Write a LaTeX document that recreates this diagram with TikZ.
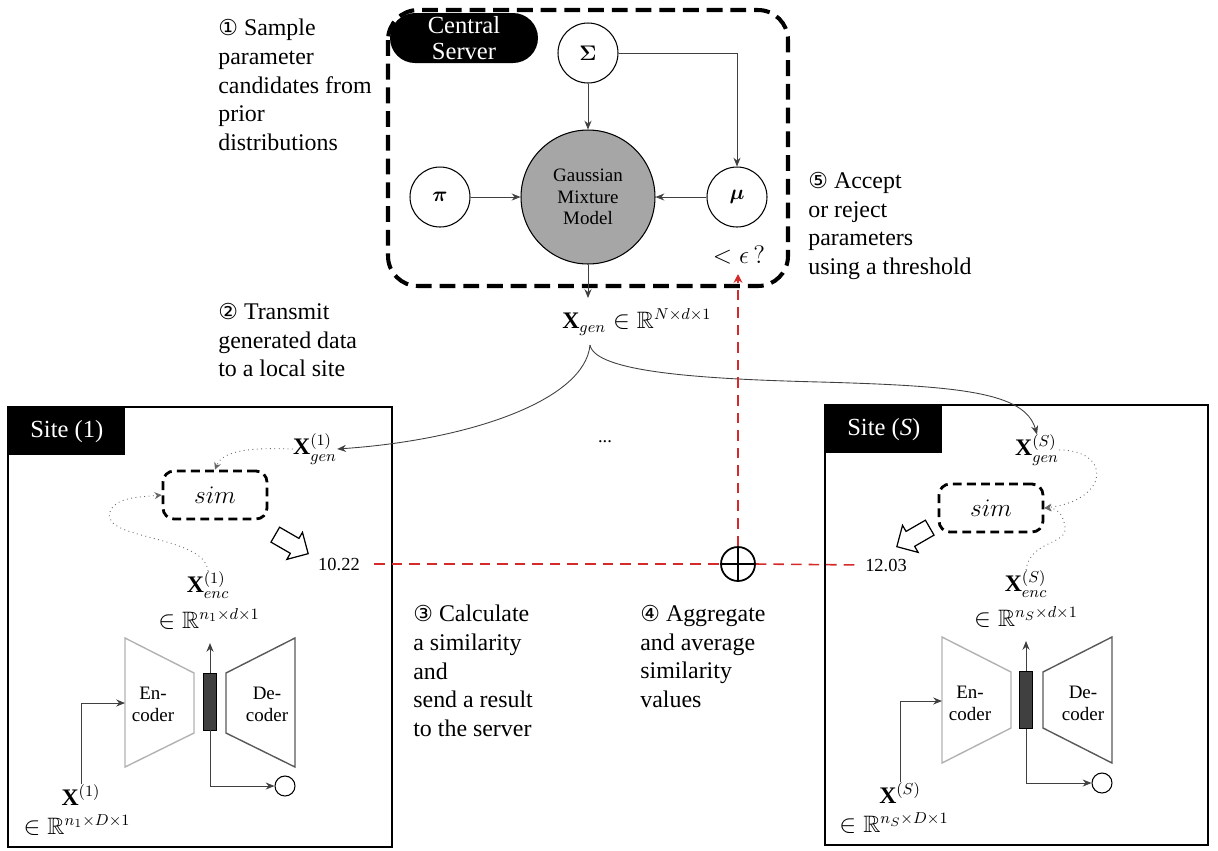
\documentclass[tikz,border=0pt]{standalone}
\usepackage{amsmath,amssymb,bm}
\usepackage{fontspec}
\setmainfont{Liberation Serif}
\newfontfamily\circledfont{DejaVu Sans}
\usetikzlibrary{arrows.meta,shapes.arrows,shapes.geometric}
\definecolor{gmmgray}{HTML}{A6A6A6}
\definecolor{redline}{HTML}{D42A2A}
\newcommand\cnum[1]{{\circledfont\fontsize{12.5}{14}\selectfont #1}}
\begin{document}
\begin{tikzpicture}[x=0.02cm,y=-0.02cm,
  arr/.style={draw=black!75, line width=0.5pt, -{Stealth[length=5pt,width=4pt]}},
  param/.style={circle, draw, line width=0.6pt, minimum size=1.2cm, inner sep=0, font=\fontsize{12}{14}\selectfont},
  note/.style={anchor=north west, align=left, inner sep=0, font=\fontsize{13.6}{16.3}\selectfont},
  lbl/.style={inner sep=0pt, font=\fontsize{13.5}{15}\selectfont},
  simbox/.style={draw, line width=1.6pt, rounded corners=0.22cm, minimum width=2.08cm, minimum height=0.96cm, dash pattern=on 5pt off 3pt, font=\fontsize{15}{17}\selectfont},
  dotc/.style={draw=black!60, dotted, line width=0.5pt, -{Stealth[length=4pt,width=4pt]}},
  reddash/.style={draw=redline, line width=0.9pt, dash pattern=on 6pt off 4pt},
  sitebox/.style={draw, line width=1.6pt},
  sitelbl/.style={fill=black, text=white, anchor=north west, minimum width=2.34cm, minimum height=0.96cm, inner sep=0, font=\fontsize{14}{16}\selectfont},
  enc/.style={draw=black!30, line width=0.8pt},
  dec/.style={draw=black!65, line width=0.8pt},
  bneck/.style={draw=black, fill=black!75, minimum width=0.26cm, minimum height=1.14cm, inner sep=0, line width=0.5pt},
  outc/.style={circle, draw, minimum size=0.4cm, inner sep=0, line width=0.6pt},
  blockarr/.style={single arrow, draw, fill=white, line width=0.7pt, minimum height=0.76cm, inner sep=0.16cm, single arrow head extend=0.14cm},
  codertext/.style={align=center, font=\fontsize{10.8}{12.5}\selectfont, inner sep=0},
  valtext/.style={inner sep=1pt, font=\fontsize{10.5}{12}\selectfont}
]
\useasboundingbox (0,0) rectangle (1218,850);

% ---------------- central server ----------------
\draw[line width=2.3pt, dash pattern=on 9pt off 4.5pt, rounded corners=0.6cm] (388,10) rectangle (788,286);
\node[fill=black, text=white, rounded corners=0.5cm, minimum width=2.96cm, minimum height=1cm, inner sep=0, align=center, font=\fontsize{14}{14.5}\selectfont] (server) at (464,38) {Central\\Server};

\node[param] (sigma) at (588,53) {$\boldsymbol{\Sigma}$};
\node[circle, draw, line width=0.6pt, fill=gmmgray, minimum size=2.68cm, inner sep=0, align=center, font=\fontsize{10.8}{12.3}\selectfont] (gmm) at (588,197) {Gaussian\\Mixture\\Model};
\node[param] (pi) at (440,197) {$\boldsymbol{\pi}$};
\node[param] (mu) at (737,197) {$\boldsymbol{\mu}$};

\draw[arr] (sigma) -- (gmm);
\draw[arr] (pi) -- (gmm);
\draw[arr] (mu) -- (gmm);
\draw[arr] (sigma.east) -| (mu.north);

\node[font=\fontsize{15}{17}\selectfont, inner sep=1pt] (eps) at (739,255) {$<\epsilon\,?$};

\coordinate (gmmout) at (588,298);
\draw[arr] (gmm.south) -- (gmmout);
\node[lbl, anchor=west] (xgen) at (562,322) {$\mathbf{X}_{gen}\in\mathbb{R}^{N\times d\times 1}$};
\coordinate (xgsrc) at (590,345);

% ---------------- annotations ----------------
\node[note] (n1) at (218,19) {\cnum{①} Sample\\parameter\\candidates from\\prior\\distributions};
\node[note] (n2) at (218,303) {\cnum{②} Transmit\\generated data\\to a local site};
\node[note] (n5) at (808,172) {\cnum{⑤} Accept\\or reject\\parameters\\using a threshold};
\node[note] (n3) at (413,605) {\cnum{③} Calculate\\a similarity\\and\\send a result\\to the server};
\node[note] (n4) at (640,605) {\cnum{④} Aggregate\\and average\\similarity\\values};

\node[valtext] (dots) at (605,442) {...};

% ---------------- site 1 ----------------
\draw[sitebox] (8,407) rectangle (392,847);
\node[sitelbl] (site1) at (8,407) {Site (1)};

\node[lbl] (xgen1) at (315,449) {$\mathbf{X}_{gen}^{(1)}$};
\node[simbox] (sim1) at (215,495) {$sim$};
\node[blockarr, rotate=-30] (ba1) at (288,542) {};
\node[valtext] (v1) at (339,564) {10.22};
\node[lbl] (xenc1) at (208,585) {$\mathbf{X}_{enc}^{(1)}$};
\node[lbl] (xenc1r) at (209,619) {$\in\mathbb{R}^{n_1\times d\times 1}$};

\draw[enc] (125,638) -- (194,673) -- (194,733) -- (125,767) -- cycle;
\node[codertext] (enc1) at (153,704) {En-\\coder};
\draw[dec] (226,673) -- (295,638) -- (295,767) -- (226,733) -- cycle;
\node[codertext] (dec1) at (267,704) {De-\\coder};
\node[bneck] (bn1) at (210,701.5) {};
\coordinate (up1) at (210,643);
\draw[arr] (bn1.north) -- (up1);
\node[outc] (out1) at (285,786) {};
\draw[arr] (bn1.south) |- (out1.west);
\coordinate (encin1) at (125,703);
\node[lbl] (x1) at (81,795) {$\mathbf{X}^{(1)}$};
\node[lbl] (x1r) at (77,825) {$\in\mathbb{R}^{n_1\times D\times 1}$};
\draw[arr] (x1.north) |- (encin1);

\draw[dotc] (xgen1.west) .. controls (245,447) and (222,452) .. (sim1.north);
\draw[dotc] (xenc1.north) .. controls (205,535) and (100,540) .. (110,512) .. controls (115,497) and (140,497) .. (sim1.west);

% ---------------- site S ----------------
\draw[sitebox] (825,405) rectangle (1208,845);
\node[sitelbl] (siteS) at (825,405) {Site (\textit{S})};

\node[lbl] (xgenS) at (1037,450) {$\mathbf{X}_{gen}^{(S)}$};
\node[simbox] (simS) at (991,508) {$sim$};
\node[blockarr, rotate=210] (baS) at (917,535) {};
\node[valtext] (vS) at (886,565) {12.03};
\node[lbl] (xencS) at (1026,584) {$\mathbf{X}_{enc}^{(S)}$};
\node[lbl] (xencSr) at (1026,617) {$\in\mathbb{R}^{n_S\times d\times 1}$};

\draw[enc] (942,637) -- (1011,672) -- (1011,728) -- (942,763) -- cycle;
\node[codertext] (encS) at (970,703) {En-\\coder};
\draw[dec] (1043,672) -- (1112,637) -- (1112,763) -- (1043,728) -- cycle;
\node[codertext] (decS) at (1083,703) {De-\\coder};
\node[bneck] (bnS) at (1026,700) {};
\coordinate (upS) at (1026,641);
\draw[arr] (bnS.north) -- (upS);
\node[outc] (outS) at (1102,783) {};
\draw[arr] (bnS.south) |- (outS.west);
\coordinate (encinS) at (942,701);
\node[lbl] (xS) at (900,793) {$\mathbf{X}^{(S)}$};
\node[lbl] (xSr) at (894,823) {$\in\mathbb{R}^{n_S\times D\times 1}$};
\draw[arr] (xS.north) |- (encinS);

\draw[dotc] (xgenS.east) .. controls (1112,450) and (1110,500) .. (simS.east);
\draw[dotc] (xencS.north) .. controls (1030,540) and (1068,545) .. (1065,527) .. controls (1063,512) and (1055,508) .. (simS.east);

% ---------------- generated data transmission ----------------
\draw[arr] (xgsrc) .. controls (585,400) and (470,440) .. (xgen1.east);
\draw[arr] (xgsrc) .. controls (595,372) and (700,379) .. (820,382) .. controls (960,386) and (1025,392) .. (xgenS.north);

% ---------------- aggregation ----------------
\node[circle, draw, line width=1pt, minimum size=0.68cm, inner sep=0] (oplus) at (738,564) {};
\draw[line width=1pt] (oplus.north) -- (oplus.south) (oplus.west) -- (oplus.east);
\coordinate (epsin) at (738,274);
\draw[reddash, -{Stealth[length=5pt,width=5pt]}] (oplus.north) -- (epsin);
\draw[reddash, shorten <=7pt] (v1.east) -- (oplus.west);
\draw[reddash, shorten >=5pt] (oplus.east) -- (vS.west);
\end{tikzpicture}
\end{document}
